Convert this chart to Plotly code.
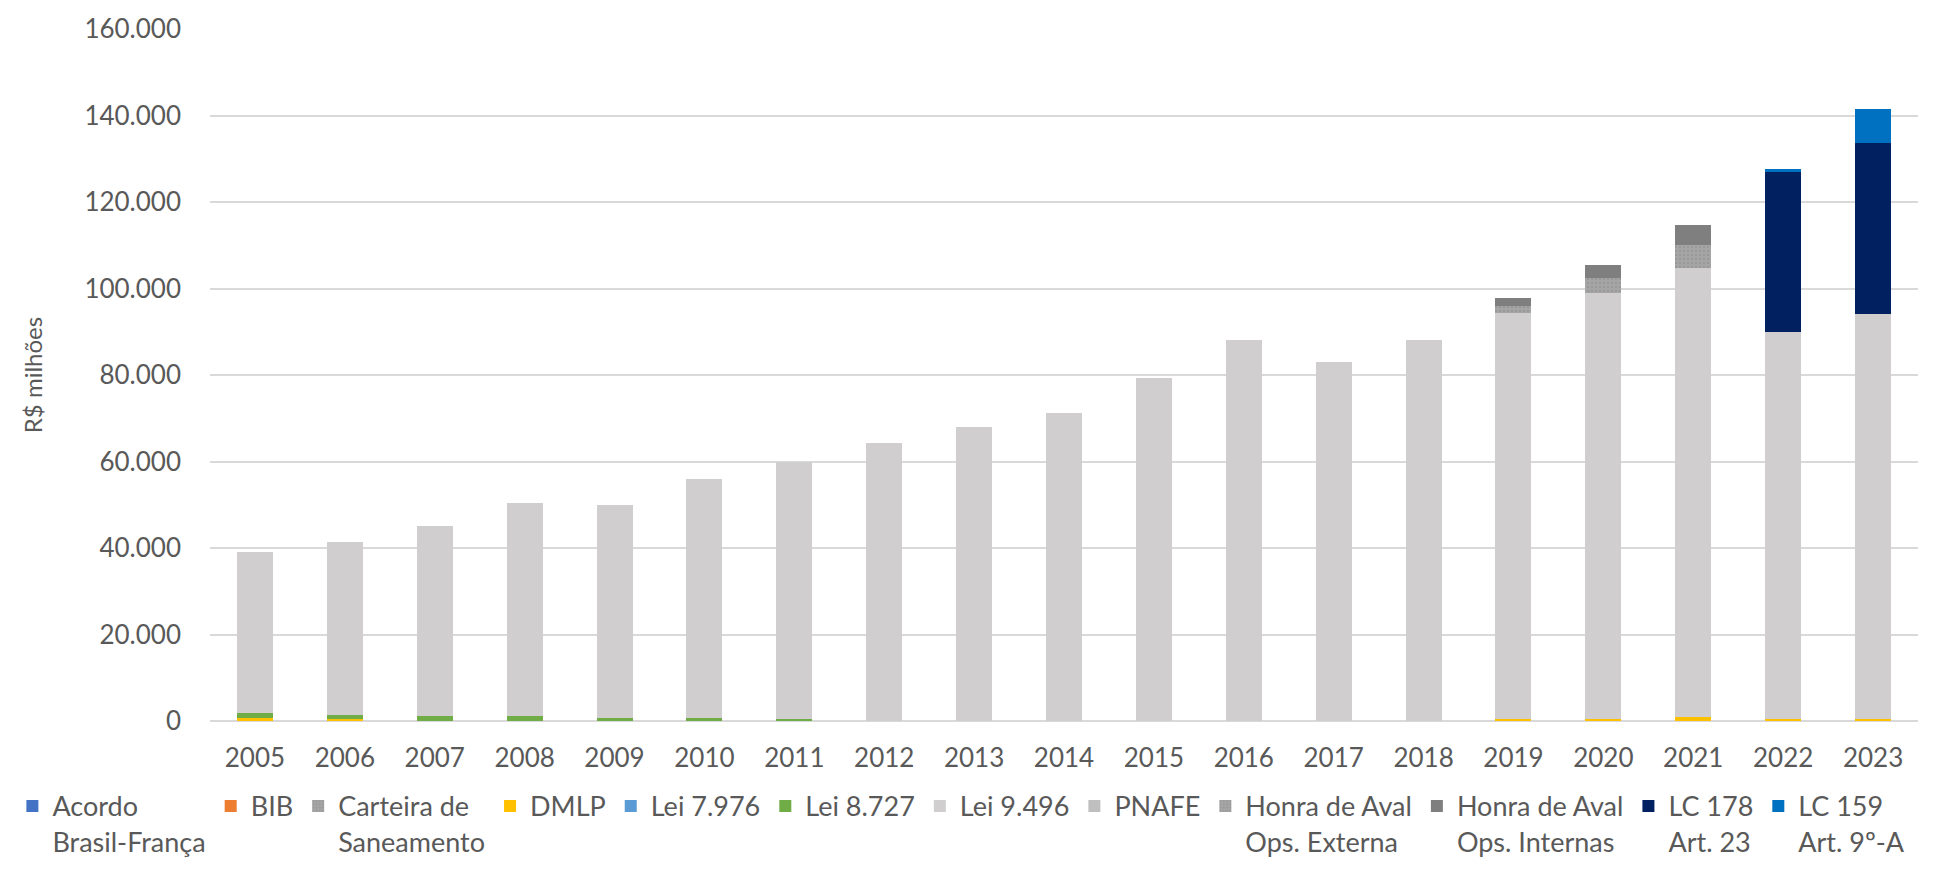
import plotly.graph_objects as go

years = [str(y) for y in range(2005, 2024)]

acordo = [0] * 19
bib = [0] * 19
carteira = [0] * 19
dmlp = [600, 500, 0, 0, 0, 0, 0, 0, 0, 0, 0, 0, 0, 0, 500, 500, 900, 500, 500]
lei7976 = [0] * 19
lei8727 = [1300, 1000, 1100, 1100, 800, 700, 400, 0, 0, 0, 0, 0, 0, 0, 0, 0, 0, 0, 0]
lei9496 = [37200, 39800, 44100, 49400, 49200, 55200, 59600, 64200, 68000, 71100,
           79300, 88200, 83100, 88200, 93800, 98500, 103800, 89400, 93700]
pnafe = [0] * 19
honra_ext = [0] * 14 + [1560, 3430, 5350, 0, 0]
honra_int = [0] * 14 + [1850, 3120, 4680, 0, 0]
lc178 = [0] * 17 + [37070, 39440]
lc159 = [0] * 17 + [580, 7800]

series = [
    ("Acordo<br>Brasil-França", acordo, "#4472C4", None),
    ("BIB", bib, "#ED7D31", None),
    ("Carteira de<br>Saneamento", carteira, "#A5A5A5", "."),
    ("DMLP", dmlp, "#FFC000", None),
    ("Lei 7.976", lei7976, "#5B9BD5", None),
    ("Lei 8.727", lei8727, "#70AD47", None),
    ("Lei 9.496", lei9496, "#D0CECE", None),
    ("PNAFE", pnafe, "#BFBFBF", None),
    ("Honra de Aval<br>Ops. Externa", honra_ext, "#A5A5A5", "."),
    ("Honra de Aval<br>Ops. Internas", honra_int, "#7F7F7F", None),
    ("LC 178<br>Art. 23", lc178, "#002060", None),
    ("LC 159<br>Art. 9º-A", lc159, "#0070C0", None),
]

fig = go.Figure()
for name, vals, color, pat in series:
    marker = dict(color=color, line=dict(width=0))
    if pat:
        marker["pattern"] = dict(shape=pat, fgcolor="#8C8C8C", bgcolor=color, size=4, solidity=0.3)
    fig.add_trace(go.Bar(x=years, y=vals, name=name, marker=marker))

font_color = "#595959"
fs = 26
fig.update_layout(
    barmode="stack",
    bargap=0.6,
    width=1937,
    height=878,
    margin=dict(l=207, r=19, t=21, b=139),
    paper_bgcolor="white",
    plot_bgcolor="white",
    separators=",.",
    hovermode=False,
    font=dict(family="Lato, Open Sans, sans-serif", size=fs, color=font_color),
    xaxis=dict(
        type="category",
        tickfont=dict(size=fs, color=font_color),
        showgrid=False,
        ticks="",
        ticklabelstandoff=19,
        showline=False,
    ),
    yaxis=dict(
        range=[0, 160000],
        dtick=20000,
        tickformat=",.0f",
        gridcolor="#D9D9D9",
        gridwidth=1.5,
        zeroline=True,
        zerolinecolor="#D9D9D9",
        zerolinewidth=1.5,
        tickfont=dict(size=fs, color=font_color),
        ticklabelstandoff=28,
        ticklabeloverflow="allow",
        title=dict(text="R$ milhões", font=dict(size=24, color=font_color), standoff=34),
    ),
    legend=dict(
        orientation="h",
        x=-0.1157,
        xanchor="left",
        y=-0.088,
        yanchor="top",
        traceorder="normal",
        font=dict(size=27, color=font_color),
        itemwidth=30,
        valign="top",
    ),
    showlegend=True,
)

fig.write_html(
    "out.html",
    config={"displayModeBar": False},
    post_script="document.body.style.margin='0';",
)
